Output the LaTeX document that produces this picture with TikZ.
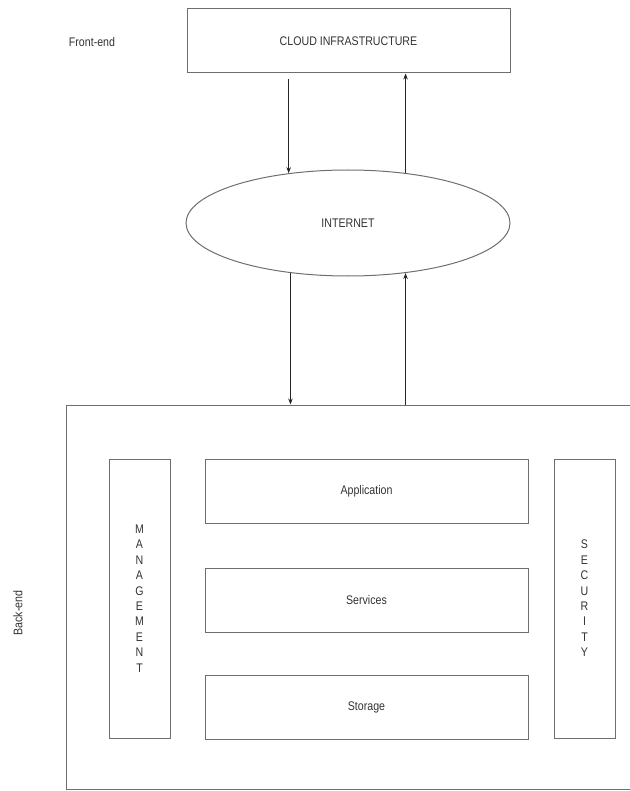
\documentclass[tikz,border=0pt]{standalone}
\usepackage{fontspec}
\usepackage{tikz}
\usetikzlibrary{arrows.meta,positioning,shapes.geometric}
\newfontfamily\diagfont{Liberation Sans}[FakeStretch=0.85]
\definecolor{ink}{HTML}{333333}
\definecolor{rule}{HTML}{6E6E6E}

\begin{document}
\begin{tikzpicture}[x=1pt,y=-1pt,
  font=\diagfont\fontsize{12.5}{15.4}\selectfont,
  box/.style={draw=rule,line width=1pt,text=ink,inner sep=0pt},
  layer/.style={box,minimum width=323pt,minimum height=64pt},
  pillar/.style={box,minimum width=61pt,minimum height=279pt,align=center},
  arr/.style={-{Stealth[length=6pt,width=4.5pt]},line width=.8pt,black!85}]
\useasboundingbox (0,0) rectangle (629,791);
% front-end
\node[text=ink] (front) at (92,42) {Front-end};
\node[box,minimum width=323pt,minimum height=64pt] (cloud) at (348.5,41) {CLOUD INFRASTRUCTURE};
\node[box,ellipse,minimum width=324pt,minimum height=106pt] (inet) at (348,223) {INTERNET};
% back-end
\node[box,minimum width=574pt,minimum height=384pt] (back) at (353,597) {};
\node[text=ink,rotate=90] (backlbl) at (18,613) {Back-end};
\node[layer] (app) at (366.5,491) {Application};
\node[layer,below=44pt of app] (serv) {Services};
\node[layer,below=42pt of serv] (stor) {Storage};
\node[pillar] (mgmt) at (139.5,598.5) {M\\A\\N\\A\\G\\E\\M\\E\\N\\T};
\node[pillar] (sec) at (584.5,598.5) {S\\E\\C\\U\\R\\I\\T\\Y};
% links
\draw[arr] ([yshift=-6pt]cloud.south -| inet.140) -- (inet.140);
\draw[arr] (inet.41) -- (inet.41 |- cloud.south);
\draw[arr] (inet.221.6) -- (inet.221.6 |- back.north);
\draw[arr] (back.north -| inet.319) -- (inet.319);
\end{tikzpicture}
\end{document}
